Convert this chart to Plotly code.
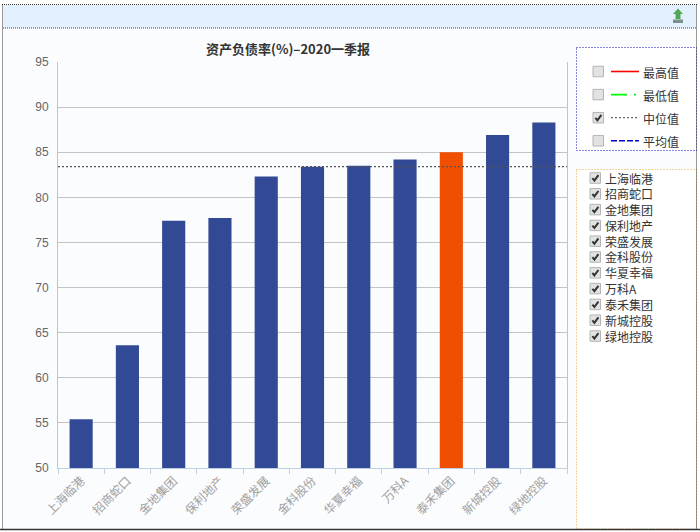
import plotly.graph_objects as go

W, H = 700, 532
CJK = "Noto Sans CJK SC"

companies = ["上海临港", "招商蛇口", "金地集团", "保利地产", "荣盛发展", "金科股份",
             "华夏幸福", "万科A", "泰禾集团", "新城控股", "绿地控股"]
debt_ratio = [55.4, 63.6, 77.4, 77.7, 82.3, 83.4, 83.5, 84.2, 85.0, 86.9, 88.3]
highlight = "泰禾集团"
median_value = 83.4
title_text = "资产负债率(%)–2020一季报"
y_ticks = [50, 55, 60, 65, 70, 75, 80, 85, 90, 95]
stat_labels = ["最高值", "最低值", "中位值", "平均值"]
stat_checked = [False, False, True, False]
stat_colors = ["#ff0000", "#00ff00", "#666666", "#0000cc"]
stat_dashes = ["solid", "16px,7px,2px,3px", "2px,2px", "6px,2px"]
FINE = "1px,1px"
PANEL = "1px,2px"


def px(x):
    return x / W


def py(y):
    return 1 - y / H


shapes = []
annotations = []


def rect(x0, y0, x1, y1, fill="rgba(0,0,0,0)", line=None, width=1, dash="solid", layer="below"):
    shapes.append(dict(type="rect", xref="paper", yref="paper", x0=px(x0), x1=px(x1),
                       y0=py(y0), y1=py(y1), fillcolor=fill, layer=layer,
                       line=dict(color=line or "rgba(0,0,0,0)", width=width if line else 0, dash=dash)))


def hline(x0, x1, y, color, width=1, dash="solid", layer="above"):
    shapes.append(dict(type="line", xref="paper", yref="paper", x0=px(x0), x1=px(x1),
                       y0=py(y), y1=py(y), layer=layer, line=dict(color=color, width=width, dash=dash)))


def vline(x, y0, y1, color, width=1, dash="solid", layer="above"):
    shapes.append(dict(type="line", xref="paper", yref="paper", x0=px(x), x1=px(x),
                       y0=py(y0), y1=py(y1), layer=layer, line=dict(color=color, width=width, dash=dash)))


def poly(points, fill=None, line=None, width=1):
    d = "M " + " L ".join(f"{px(a):.5f},{py(b):.5f}" for a, b in points)
    if fill:
        d += " Z"
    shapes.append(dict(type="path", xref="paper", yref="paper", path=d, layer="above",
                       fillcolor=fill or "rgba(0,0,0,0)",
                       line=dict(color=line or "rgba(0,0,0,0)", width=width if line else 0)))


def label(x, y, text, size=12, color="#333333", anchor="left"):
    annotations.append(dict(xref="paper", yref="paper", x=px(x), y=py(y), text=text, showarrow=False,
                            xanchor=anchor, yanchor="middle", borderpad=0, borderwidth=0,
                            font=dict(family=CJK, size=size, color=color)))


def checkbox(x, y, checked, size=10.5):
    rect(x, y - size / 2, x + size, y + size / 2, fill="#e2e2e2", line="#b4b4b4", width=1, layer="above")
    if checked:
        poly([(x + 2.4, y + 0.2), (x + 4.4, y + 2.6), (x + 8.4, y - 2.8)], line="#333333", width=2)


# Page furniture
rect(3, 28, 696, 529, fill="#fbfcfe")
rect(3, 5, 696, 28, fill="#e3f0fd")
hline(2, 697, 4.5, "#333333", 1, FINE)
hline(3, 696, 28, "#444444", 1, FINE)
vline(2.5, 4.5, 529, "#333333", 1, FINE)
vline(696.5, 4.5, 529, "#333333", 1, FINE)
hline(0, 700, 529.5, "#333333", 1.5)

# Upload icon
poly([(678, 8.5), (683, 14), (680.5, 14), (680.5, 19), (675.5, 19), (675.5, 14), (673, 14)], fill="#4fa85a")
rect(673, 19.5, 683, 23, fill="#7b8f8c", layer="above")

# Statistic legend panel
rect(576.5, 47.5, 696.5, 150.5, fill="#ffffff", line="#1010c0", width=1, dash=PANEL)
for i, (name, on, col, dash) in enumerate(zip(stat_labels, stat_checked, stat_colors, stat_dashes)):
    y = 71.5 + i * 23.1
    checkbox(593, y, on)
    hline(611, 639, y, col, 1.6 if dash != "2px,2px" else 1.3, dash)
    label(643, y + 0.5, name, size=12)

# Company checkbox panel
rect(576.5, 169.5, 696.5, 529, fill="#ffffff", line="#f0a838", width=1, dash=PANEL)
for i, name in enumerate(companies):
    y = 178 + i * 15.8
    checkbox(590, y, True)
    label(605, y, name, size=12)

colors = ["#f04e00" if c == highlight else "#324a96" for c in companies]
fig = go.Figure(go.Bar(x=companies, y=debt_ratio, marker=dict(color=colors, line=dict(width=0)),
                       width=0.5, hoverinfo="x+y"))

shapes.append(dict(type="line", xref="x domain", x0=0, x1=1, yref="y", y0=median_value, y1=median_value,
                   layer="above", line=dict(color="#555555", width=1.3, dash="2px,2px")))

annotations.append(dict(xref="paper", yref="paper", x=px(288), y=py(48), text=f"<b>{title_text}</b>",
                        showarrow=False, xanchor="center", yanchor="middle",
                        font=dict(family=CJK, size=13, color="#333333")))

fig.update_layout(
    width=W, height=H, autosize=False, margin=dict(l=0, r=0, t=0, b=0),
    paper_bgcolor="#ffffff", plot_bgcolor="rgba(0,0,0,0)", showlegend=False,
    font=dict(family=CJK), shapes=shapes, annotations=annotations, bargap=0.5,
    xaxis=dict(domain=[px(58), px(567)], type="category", categoryorder="array", categoryarray=companies,
               automargin=False, tickangle=-45, ticks="outside", ticklen=5, tickcolor="#c0d0e0", linecolor="#c0d0e0",
               showline=True, showgrid=False, tickson="boundaries", tickfont=dict(family=CJK, size=12, color="#a0a0a0")),
    yaxis=dict(domain=[py(468), py(62)], range=[50, 95], tickvals=y_ticks, ticks="", showgrid=True, automargin=False,
               gridcolor="#c4c4c4", gridwidth=1, showline=True, linecolor="#c4c4c4",
               ticklabelstandoff=6, tickfont=dict(family="Liberation Sans", size=12, color="#666666"), mirror=True),
)

fig.write_html("out.html", post_script="document.body.style.margin='0';window.dispatchEvent(new Event('resize'));",
               config={"displayModeBar": False})
